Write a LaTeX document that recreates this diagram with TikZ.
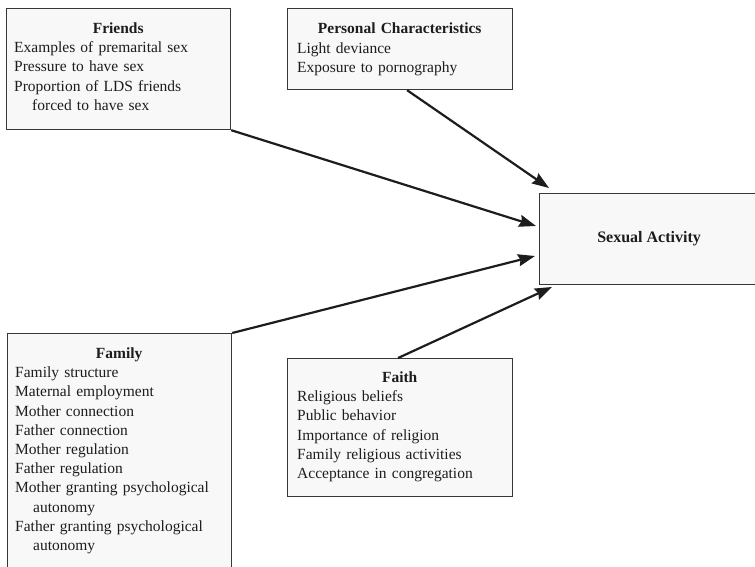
\documentclass[tikz,border=0pt]{standalone}
\usepackage{fontspec}
\setmainfont{Liberation Serif}
\usetikzlibrary{arrows.meta}
\definecolor{sxink}{RGB}{30,28,28}
\definecolor{sxedge}{RGB}{55,55,55}
\definecolor{sxfill}{RGB}{248,248,248}
\newcommand{\boxhead}[1]{\makebox[\linewidth]{\textbf{#1}}}
\newcommand{\cont}{\hspace*{18pt}}
\tikzset{
  panel/.style={draw=sxedge, line width=1.2pt, fill=sxfill, anchor=north west,
                inner sep=0pt},
  plist/.style={anchor=north west, inner sep=0pt, align=left, text=sxink,
                font=\fontsize{15.5}{19.2}\selectfont},
  flow/.style={-{Stealth[length=17pt,width=12pt,inset=2pt]}, line width=2.2pt,
               color=sxink},
}

\begin{document}
\begin{tikzpicture}[x=1pt,y=-1pt]
\useasboundingbox (0,0) rectangle (755,567);
% the four groups of predictors
\node[panel, minimum width=224pt, minimum height=121pt] (friends) at (6,8) {};
\node[plist, text width=208pt] (friendstxt) at ([shift={(8,14.5)}]friends.north west)
  {\boxhead{Friends}\\Examples of premarital sex\\Pressure to have sex\\
   Proportion of LDS friends\\\cont forced to have sex};
\node[panel, minimum width=225pt, minimum height=81pt] (personal) at (287,8) {};
\node[plist, text width=205pt] (personaltxt) at ([shift={(10,15)}]personal.north west)
  {\boxhead{Personal Characteristics}\\Light deviance\\Exposure to pornography};
\node[panel, minimum width=224pt, minimum height=267pt] (family) at (7,333) {};
\node[plist, text width=208pt] (familytxt) at ([shift={(8,14.5)}]family.north west)
  {\boxhead{Family}\\Family structure\\Maternal employment\\Mother connection\\
   Father connection\\Mother regulation\\Father regulation\\
   Mother granting psychological\\\cont autonomy\\
   Father granting psychological\\\cont autonomy};
\node[panel, minimum width=225pt, minimum height=138pt] (faith) at (287,358) {};
\node[plist, text width=205pt] (faithtxt) at ([shift={(10,13.5)}]faith.north west)
  {\boxhead{Faith}\\Religious beliefs\\Public behavior\\Importance of religion\\
   Family religious activities\\Acceptance in congregation};
% outcome
\node[panel, minimum width=219pt, minimum height=91pt, text=sxink,
      font=\fontsize{16}{19}\selectfont\bfseries] (sex) at (539,193) {Sexual Activity};

\draw[flow] (friends.south east) -- ([shift={(-3,33)}]sex.north west);
\draw[flow] ([xshift=7pt]personal.south) -- ([shift={(10,-5)}]sex.north west);
\draw[flow] (family.north east) -- ([shift={(-4,63)}]sex.north west);
\draw[flow] ([xshift=-2pt]faith.north) -- ([shift={(13,94)}]sex.north west);
\end{tikzpicture}
\end{document}
